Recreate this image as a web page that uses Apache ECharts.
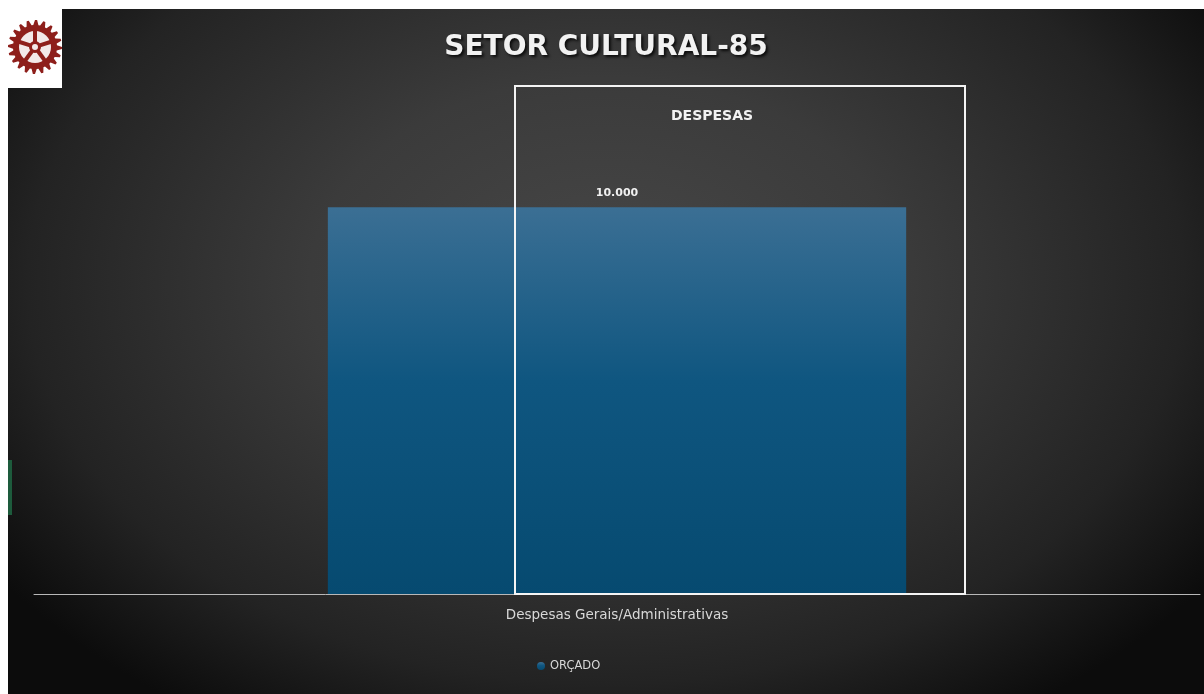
<!DOCTYPE html>
<html>
<head>
<meta charset="utf-8">
<script src="https://cdn.jsdelivr.net/npm/echarts@6/dist/echarts.min.js"></script>
<style>
  html, body { margin: 0; padding: 0; background: #fff; }
  #wrap { position: relative; width: 1204px; height: 694px; background: #fff; overflow: hidden; }
  #mychart {
    position: absolute; left: 8px; top: 9px; width: 1196px; height: 685px;
    background: radial-gradient(ellipse 62% 75% at 50% 40%, #474747 0%, #3b3b3b 40%, #232323 78%, #0c0c0c 100%);
  }
</style>
</head>
<body>
<div id="wrap"><div id="mychart"></div></div>
<script>
// dados
var categorias = ['Despesas Gerais/Administrativas'];
var orcado = [10000];
var serieNome = 'ORÇADO';
var titulo = 'SETOR CULTURAL-85';
var subtitulo = 'DESPESAS';

// engrenagem do logo (só decoração)
function gearPoints(cx, cy, rOut, rIn, teeth) {
  var pts = [];
  var n = teeth * 4;
  for (var i = 0; i < n; i++) {
    var a = (i / n) * Math.PI * 2;
    var r = (i % 4 === 0 || i % 4 === 1) ? rOut : rIn;
    pts.push([cx + r * Math.cos(a), cy + r * Math.sin(a)]);
  }
  return pts;
}

var myChart = echarts.init(document.getElementById('mychart'));
var option = {
  backgroundColor: 'transparent',
  animation: false,
  title: {
    text: titulo,
    left: 'center',
    top: 20,
    textStyle: {
      color: '#f2f2f2', fontSize: 28, fontWeight: 'bold', fontFamily: 'DejaVu Sans',
      textShadowColor: 'rgba(0,0,0,0.8)', textShadowBlur: 3, textShadowOffsetX: 2, textShadowOffsetY: 2
    }
  },
  legend: {
    data: [serieNome],
    left: 524,
    top: 646,
    icon: 'circle',
    itemWidth: 8,
    itemHeight: 8,
    itemGap: 3,
    textStyle: { color: '#d8d8d8', fontSize: 11.5, fontFamily: 'DejaVu Sans' }
  },
  grid: { left: 26, right: 4, top: 121, bottom: 100, containLabel: false },
  xAxis: {
    type: 'category',
    data: categorias,
    axisLine: { lineStyle: { color: '#b8b8b8', width: 1 } },
    axisTick: { show: false },
    axisLabel: { color: '#d8d8d8', fontSize: 13.5, margin: 14, fontFamily: 'DejaVu Sans' }
  },
  yAxis: {
    type: 'value',
    min: 0,
    max: 12000,
    show: false,
    splitLine: { show: false }
  },
  series: [{
    name: serieNome,
    type: 'bar',
    data: orcado,
    barWidth: '49.6%',
    itemStyle: {
      color: new echarts.graphic.LinearGradient(0, 0, 0, 1, [
        { offset: 0, color: '#3b6f94' },
        { offset: 0.45, color: '#0f5680' },
        { offset: 1, color: '#064a70' }
      ])
    },
    label: {
      show: true,
      position: 'top',
      distance: 9,
      color: '#f0f0f0',
      fontSize: 11,
      fontWeight: 'bold',
      fontFamily: 'DejaVu Sans',
      formatter: function (p) { return p.value.toLocaleString('pt-BR'); }
    }
  }],
  graphic: [
    {
      type: 'rect', z: 100,
      shape: { x: 507, y: 77, width: 450, height: 508 },
      style: { fill: 'none', stroke: '#f4f4f4', lineWidth: 2 }
    },
    {
      type: 'text', z: 100,
      x: 704, y: 107,
      style: {
        text: subtitulo, fill: '#f2f2f2', font: 'bold 14px "DejaVu Sans"',
        align: 'center', verticalAlign: 'middle'
      }
    },
    {
      type: 'rect', z: 100,
      shape: { x: 0, y: 0, width: 54, height: 79 },
      style: { fill: '#ffffff' }
    },
    {
      type: 'polygon', z: 101,
      shape: { points: gearPoints(27, 38, 27, 22, 20) },
      style: { fill: '#8e1f1b' }
    },
    {
      type: 'circle', z: 102,
      shape: { cx: 27, cy: 38, r: 16 },
      style: { fill: '#f3e9e9' }
    },
    {
      type: 'ring', z: 103,
      shape: { cx: 27, cy: 38, r: 6, r0: 3 },
      style: { fill: '#8e1f1b' }
    },
    {
      type: 'rect', z: 100,
      shape: { x: 0, y: 451, width: 4, height: 55 },
      style: { fill: '#1d5b3c' }
    }
  ]
};
// raios da engrenagem
for (var k = 0; k < 5; k++) {
  var a = -Math.PI / 2 + k * 2 * Math.PI / 5;
  option.graphic.push({
    type: 'line', z: 103,
    shape: { x1: 27 + 5 * Math.cos(a), y1: 38 + 5 * Math.sin(a), x2: 27 + 17 * Math.cos(a), y2: 38 + 17 * Math.sin(a) },
    style: { stroke: '#8e1f1b', lineWidth: 4 }
  });
}
myChart.setOption(option);
window.addEventListener('resize', function () { myChart.resize(); });
</script>
</body>
</html>
